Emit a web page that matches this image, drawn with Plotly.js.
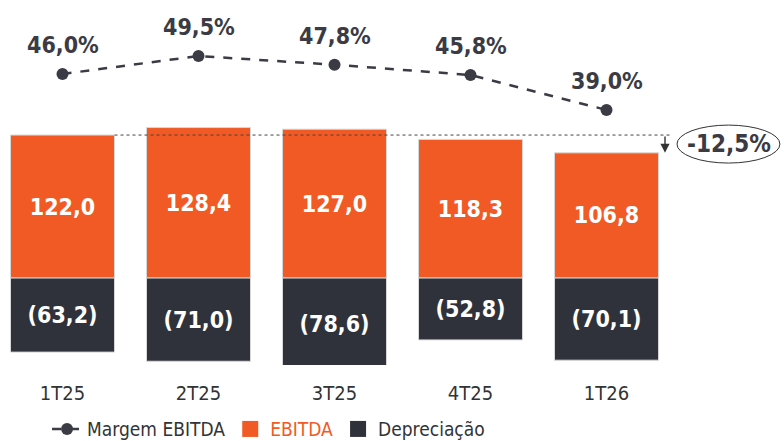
<!DOCTYPE html>
<html><head><meta charset="utf-8">
<script src="https://cdn.plot.ly/plotly-3.0.1.min.js"></script>
<style>html,body{margin:0;padding:0;background:#fff}#c{width:784px;height:441px}</style>
</head><body><div id="c"></div>
<script>
const categories = ["1T25","2T25","3T25","4T25","1T26"];
const ebitda = [122.0, 128.4, 127.0, 118.3, 106.8];
const depreciacao = [-63.2, -71.0, -78.6, -52.8, -70.1];
const margem = [46.0, 49.5, 47.8, 45.8, 39.0];
const variacaoLabel = "-12,5%";

const FONT = "'Liberation Sans Narrow','Arial Narrow','DejaVu Sans Condensed',sans-serif";
const ORANGE = "#F15A24";
const DARK = "#30323B";
const LINEC = "#3a3b44";
const fmt = v => Math.abs(v).toFixed(1).replace(".", ",");

const traces = [
  {type:"scatter", mode:"lines+markers", name:"Margem EBITDA", x:categories, y:margem, yaxis:"y2",
   line:{color:LINEC, width:2.5, dash:"dash"}, marker:{size:12, color:LINEC}, hoverinfo:"skip"},
  {type:"bar", name:"EBITDA", showlegend:false, x:categories, y:ebitda,
   marker:{color:ORANGE, line:{color:"#d8d8d8", width:1}},
   text:ebitda.map(fmt), textposition:"inside", insidetextanchor:"middle", constraintext:"none",
   textfont:{family:FONT, size:23, color:"#fff", weight:"bold"}, hoverinfo:"skip"},
  {type:"bar", name:"Depreciação", showlegend:false, x:categories, y:depreciacao,
   marker:{color:DARK, line:{color:"#d8d8d8", width:1}},
   text:depreciacao.map(v=>"("+fmt(v)+")"), textposition:"inside", insidetextanchor:"middle", constraintext:"none",
   textfont:{family:FONT, size:23, color:"#fff", weight:"bold"}, hoverinfo:"skip"},
  {type:"scatter", mode:"markers", name:'<span style="color:'+ORANGE+'">EBITDA</span>', x:[null], y:[null],
   marker:{symbol:"square", size:20, color:ORANGE}, hoverinfo:"skip"},
  {type:"scatter", mode:"markers", name:"Depreciação", x:[null], y:[null],
   marker:{symbol:"square", size:20, color:DARK}, hoverinfo:"skip"}
];

const annotations = margem.map((v,i)=>({x:categories[i], y:v, yref:"y2", text:"<b>"+fmt(v)+"%</b>", showarrow:false,
  yshift:29, font:{family:FONT, size:23, color:LINEC}}));
annotations.push({x:4.43, y:ebitda[4], ax:4.43, ay:ebitda[0], axref:"x", ayref:"y", xref:"x", yref:"y",
  text:"", showarrow:true, arrowhead:2, arrowsize:1.3, arrowwidth:1.4, arrowcolor:"#333", standoff:0});
annotations.push({x:4.9, y:114.3, xref:"x", yref:"y", text:"<b>"+variacaoLabel+"</b>", showarrow:false,
  font:{family:FONT, size:24, color:LINEC}});

const layout = {
  width:784, height:441, margin:{l:0, r:0, t:10, b:76, autoexpand:false},
  paper_bgcolor:"#fff", plot_bgcolor:"#fff",
  font:{family:FONT, size:20, color:"#333"},
  barmode:"relative", bargap:0.235, showlegend:true,
  xaxis:{type:"category", range:[-0.4596, 5.305], showgrid:false, zeroline:false, showline:false, automargin:false,
    ticks:"", tickfont:{family:FONT, size:20, color:"#333"}, ticklabelstandoff:14},
  yaxis:{range:[-74.2, 228.7], visible:false, showgrid:false, zeroline:false, automargin:false},
  yaxis2:{range:[-10.62, 58.45], overlaying:"y", visible:false, showgrid:false, zeroline:false, automargin:false},
  legend:{orientation:"h", x:0.06, xanchor:"left", y:-0.127, yanchor:"top",
    font:{family:FONT, size:19, color:"#333"}, traceorder:"normal", itemwidth:30, tracegroupgap:0},
  shapes:[
    {type:"line", xref:"x", yref:"y", x0:0.3825, x1:4.481, y0:ebitda[0], y1:ebitda[0],
     line:{color:"#444", width:1, dash:"dot"}},
    {type:"circle", xref:"x", yref:"y", x0:4.518, x1:5.275, y0:98.1, y1:130.5,
     line:{color:"#333", width:1}}
  ],
  annotations:annotations
};
Plotly.newPlot("c", traces, layout, {displayModeBar:false, staticPlot:true});
</script></body></html>
